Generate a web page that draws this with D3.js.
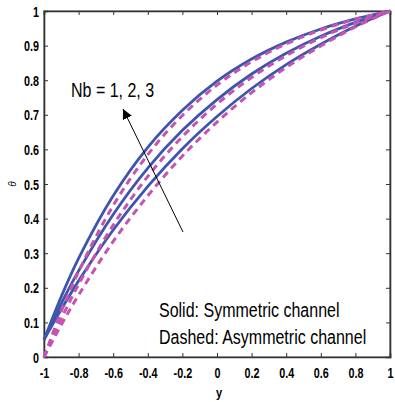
<!DOCTYPE html>
<html>
<head>
<meta charset="utf-8">
<script src="https://cdn.jsdelivr.net/npm/d3@7/dist/d3.min.js"></script>
<style>
  body { margin: 0; background: #fff; }
  svg { display: block; }
</style>
</head>
<body>
<svg id="chart" width="395" height="402"></svg>
<script>
// y positions across the channel (x axis of the plot)
const yValues = [-1, -0.9, -0.8, -0.6, -0.4, -0.2, 0, 0.2, 0.4, 0.6, 0.8, 1];

// solid: symmetric channel, Nb = 1, 2, 3
const symNb1 = [0.05, 0.138, 0.220, 0.367, 0.493, 0.602, 0.695, 0.776, 0.845, 0.904, 0.956, 1];
const symNb2 = [0.05, 0.155, 0.249, 0.412, 0.546, 0.655, 0.744, 0.818, 0.878, 0.927, 0.967, 1];
const symNb3 = [0.05, 0.175, 0.285, 0.466, 0.606, 0.713, 0.797, 0.861, 0.910, 0.948, 0.977, 1];

// dashed: asymmetric channel, Nb = 1, 2, 3
const asymNb1 = [0, 0.093, 0.179, 0.334, 0.466, 0.581, 0.679, 0.764, 0.837, 0.899, 0.954, 1];
const asymNb2 = [0, 0.110, 0.210, 0.381, 0.522, 0.637, 0.731, 0.808, 0.871, 0.923, 0.965, 1];
const asymNb3 = [0, 0.132, 0.247, 0.438, 0.585, 0.698, 0.786, 0.853, 0.905, 0.945, 0.976, 1];

const xTicks = [-1, -0.8, -0.6, -0.4, -0.2, 0, 0.2, 0.4, 0.6, 0.8, 1];
const yTicks = [0, 0.1, 0.2, 0.3, 0.4, 0.5, 0.6, 0.7, 0.8, 0.9, 1];

const svg = d3.select('#chart');
const L = 44, R = 390, T = 11, B = 357;
const x = d3.scaleLinear().domain([-1, 1]).range([L, R]);
const y = d3.scaleLinear().domain([0, 1]).range([B, T]);

const fmt = d => String(+d.toFixed(1));
const font = '"Liberation Sans", Arial, sans-serif';

// frame
svg.append('rect').attr('x', L).attr('y', T).attr('width', R - L).attr('height', B - T)
  .attr('fill', 'none').attr('stroke', '#555').attr('stroke-width', 1);

// axes, ticks pointing inward on all four sides
const gx = svg.append('g').attr('transform', `translate(0,${B})`)
  .call(d3.axisBottom(x).tickValues(xTicks).tickSize(-4).tickPadding(0).tickFormat(fmt));
const gxTop = svg.append('g').attr('transform', `translate(0,${T})`)
  .call(d3.axisTop(x).tickValues(xTicks).tickSize(-4).tickFormat(''));
const gy = svg.append('g').attr('transform', `translate(${L},0)`)
  .call(d3.axisLeft(y).tickValues(yTicks).tickSize(-4).tickPadding(0).tickFormat(fmt));
const gyRight = svg.append('g').attr('transform', `translate(${R},0)`)
  .call(d3.axisRight(y).tickValues(yTicks).tickSize(-4).tickFormat(''));

[gx, gxTop, gy, gyRight].forEach(g => {
  g.select('.domain').attr('stroke', '#333').attr('stroke-width', 1.6);
  g.selectAll('.tick line').attr('stroke', '#333');
});

gx.selectAll('.tick text')
  .attr('y', 0).attr('dy', 0)
  .attr('transform', 'translate(0,21) scale(0.77,1)')
  .style('font-family', font).style('font-size', '14px').style('font-weight', 'bold').attr('fill', '#000');
gy.selectAll('.tick text')
  .attr('x', 0).attr('dy', '0.36em')
  .attr('transform', 'translate(-5,0) scale(0.77,1)')
  .style('font-family', font).style('font-size', '14px').style('font-weight', 'bold').attr('fill', '#000');

// axis titles
svg.append('text').attr('transform', 'translate(219,397) scale(0.85,1)')
  .attr('text-anchor', 'middle')
  .style('font-family', font).style('font-size', '13px').style('font-weight', 'bold').text('y');
svg.append('text').attr('transform', 'translate(16,184) rotate(-90)')
  .attr('text-anchor', 'middle')
  .style('font-family', font).style('font-size', '10px').style('font-style', 'italic').text('θ');

// curves: solid first, dashed drawn over them
const line = d3.line().x((d, i) => x(yValues[i])).y(d => y(d)).curve(d3.curveCatmullRom);
const plot = svg.append('g');
[symNb1, symNb2, symNb3].forEach(s => {
  plot.append('path').attr('d', line(s)).attr('fill', 'none')
    .attr('stroke', '#3d55ad').attr('stroke-width', 2.8);
});
[asymNb1, asymNb2, asymNb3].forEach(s => {
  plot.append('path').attr('d', line(s)).attr('fill', 'none')
    .attr('stroke', '#c653b3').attr('stroke-width', 3).attr('stroke-dasharray', '7,5');
});

// annotation arrow
svg.append('defs').append('marker').attr('id', 'head')
  .attr('viewBox', '0 0 10 10').attr('refX', 10).attr('refY', 5)
  .attr('markerWidth', 10).attr('markerHeight', 10).attr('markerUnits', 'userSpaceOnUse')
  .attr('orient', 'auto')
  .append('path').attr('d', 'M0,0 L10,5 L0,10 Z').attr('fill', '#000');
svg.append('line').attr('x1', 183).attr('y1', 232).attr('x2', 123).attr('y2', 109)
  .attr('stroke', '#000').attr('stroke-width', 1).attr('marker-end', 'url(#head)');

const label = (tx, ty, s) => svg.append('text')
  .attr('transform', `translate(${tx},${ty}) scale(0.8,1)`)
  .style('font-family', font).style('font-size', '20px').attr('fill', '#000').text(s);
label(71, 97, 'Nb = 1, 2, 3');
label(159, 317, 'Solid: Symmetric channel');
label(159, 344, 'Dashed: Asymmetric channel');
</script>
</body>
</html>
